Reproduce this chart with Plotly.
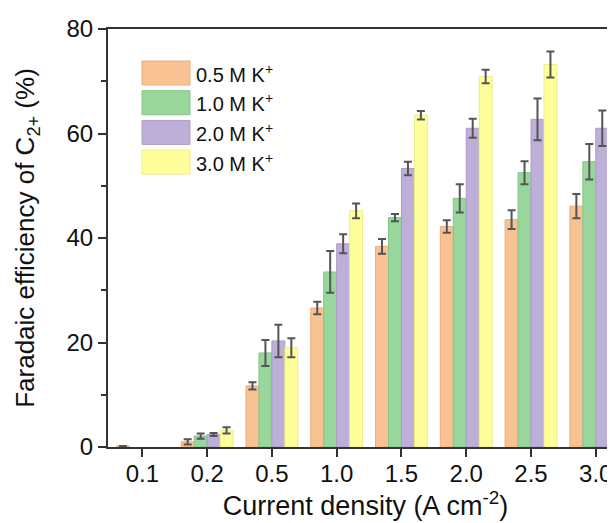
import plotly.graph_objects as go

categories = ["0.1", "0.2", "0.5", "1.0", "1.5", "2.0", "2.5", "3.0"]
series_names = ["0.5 M K<sup>+</sup>", "1.0 M K<sup>+</sup>", "2.0 M K<sup>+</sup>", "3.0 M K<sup>+</sup>"]
fe_05 = [0.2, 1.0, 11.7, 26.6, 38.4, 42.2, 43.5, 46.1]
err_05 = [0.0, 0.5, 0.7, 1.2, 1.4, 1.2, 1.8, 2.3]
fe_10 = [None, 2.1, 18.0, 33.5, 43.9, 47.6, 52.5, 54.6]
err_10 = [None, 0.5, 2.5, 4.0, 0.7, 2.7, 2.2, 3.4]
fe_20 = [None, 2.4, 20.3, 38.9, 53.3, 61.0, 62.7, 61.0]
err_20 = [None, 0.3, 3.1, 1.8, 1.3, 1.8, 4.0, 3.4]
fe_30 = [None, 3.2, 19.0, 45.2, 63.5, 70.9, 73.2, 73.3]
err_30 = [None, 0.6, 1.8, 1.4, 0.8, 1.3, 2.5, 2.3]

values = [fe_05, fe_10, fe_20, fe_30]
errors = [err_05, err_10, err_20, err_30]
colors = ["#F9C292", "#98D69C", "#BEAFD8", "#FEFE9A"]
edge_colors = ["#E8AE80", "#86C48A", "#AC9CC6", "#ECEC88"]

fig = go.Figure()
for name, v, e, c, ec in zip(series_names, values, errors, colors, edge_colors):
    fig.add_trace(go.Bar(
        x=categories, y=v, name=name,
        marker=dict(color=c, line=dict(color=ec, width=1)),
        error_y=dict(type="data", array=e, visible=True, color="#555555", thickness=2, width=4),
        showlegend=False,
    ))

font_family = "Liberation Sans, Arial, sans-serif"

# legend drawn manually with large swatches
W, H = 615, 523
PL, PT, PH = 100, 21, 418
leg_x0, leg_x1 = 134, 182
row_top = 53
row_h = 24
row_step = 29.7
for i, (name, c, ec) in enumerate(zip(series_names, colors, edge_colors)):
    y0 = row_top + i * row_step
    fig.add_shape(type="rect", xref="paper", yref="paper",
                  x0=(leg_x0 - PL) / (W - PL), x1=(leg_x1 - PL) / (W - PL),
                  y0=1 - ((y0 + row_h) - PT) / PH, y1=1 - (y0 - PT) / PH,
                  fillcolor=c, line=dict(color=ec, width=1))
    fig.add_annotation(xref="paper", yref="paper",
                       x=(186 - PL) / (W - PL), y=1 - ((y0 + row_h / 2) - PT) / PH,
                       text=name, showarrow=False, xanchor="left", yanchor="middle",
                       font=dict(family=font_family, size=20, color="#111"))

fig.update_layout(
    width=W, height=H,
    margin=dict(l=PL, r=0, t=PT, b=H - PT - PH),
    barmode="group", bargap=0.2, bargroupgap=0,
    plot_bgcolor="white", paper_bgcolor="white",
    font=dict(family=font_family, size=22, color="#111"),
    xaxis=dict(
        type="category", range=[-0.53, 7.42],
        showline=True, linecolor="#333", linewidth=2, mirror=True,
        ticks="outside", ticklen=8, tickwidth=2, tickcolor="#333",
        tickfont=dict(size=24), ticklabelstandoff=-4,
        title=dict(text="Current density (A cm<sup>-2</sup>)", font=dict(size=27), standoff=4),
        showgrid=False,
    ),
    yaxis=dict(
        range=[0, 80], tickvals=[0, 20, 40, 60, 80],
        showline=True, linecolor="#333", linewidth=2,
        ticks="outside", ticklen=8, tickwidth=2, tickcolor="#333",
        tickfont=dict(size=24),
        minor=dict(tickvals=[10, 30, 50, 70], ticks="outside", ticklen=5, tickwidth=2, tickcolor="#333"),
        title=dict(text="Faradaic efficiency of C<sub>2+</sub> (%)", font=dict(size=26), standoff=24),
        showgrid=False, zeroline=False,
    ),
)

fig.write_html("out.html")
